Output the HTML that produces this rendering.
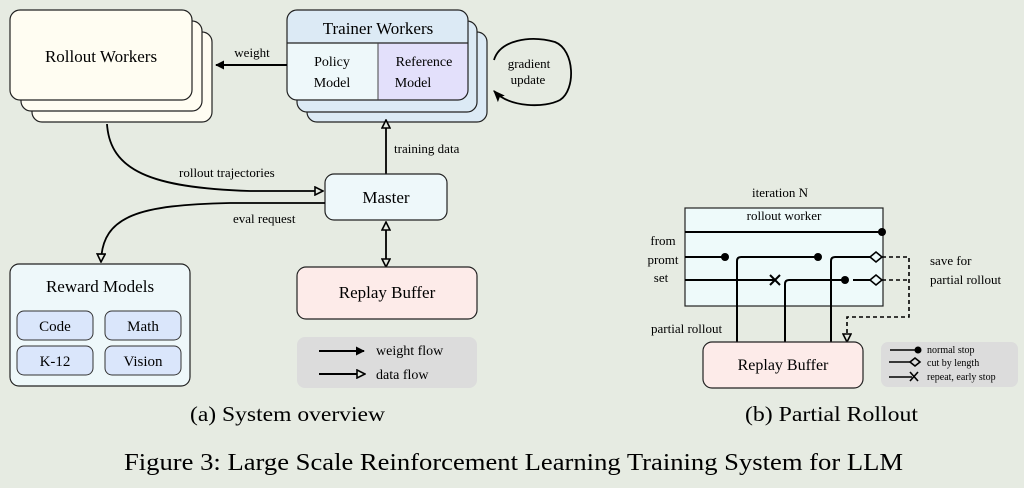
<!DOCTYPE html>
<html><head><meta charset="utf-8"><style>
html,body{margin:0;padding:0;background:#e6ebe2;}
svg{display:block;font-family:"Liberation Serif",serif;}
</style></head><body>
<svg width="1024" height="488" viewBox="0 0 1024 488" xmlns="http://www.w3.org/2000/svg">
<defs>
<marker id="fa" viewBox="0 0 10 10" refX="9" refY="5" markerWidth="9" markerHeight="9" markerUnits="userSpaceOnUse" orient="auto"><path d="M0,0 L10,5 L0,10 z" fill="#000"/></marker>
<marker id="ha" viewBox="0 0 10 10" refX="9" refY="5" markerWidth="10" markerHeight="10" markerUnits="userSpaceOnUse" orient="auto"><path d="M1,1 L9,5 L1,9 z" fill="#e6ebe2" stroke="#000" stroke-width="1.6"/></marker>
<marker id="fb" viewBox="0 0 10 10" refX="9" refY="5" markerWidth="12" markerHeight="12" markerUnits="userSpaceOnUse" orient="auto"><path d="M0,1 L10,5 L0,9 L2,5 z" fill="#000"/></marker>
</defs>
<rect width="1024" height="488" fill="#e6ebe2"/>

<!-- Rollout workers -->
<rect x="32" y="32" width="180" height="90" rx="10" fill="#fffdf2" stroke="#222" stroke-width="1.2"/>
<rect x="21" y="21" width="181" height="90" rx="10" fill="#fffdf2" stroke="#222" stroke-width="1.2"/>
<rect x="10" y="10" width="182" height="90" rx="10" fill="#fffdf2" stroke="#222" stroke-width="1.2"/>
<text x="101" y="62" font-size="17" text-anchor="middle">Rollout Workers</text>

<!-- Trainer workers -->
<rect x="307" y="32" width="180" height="90" rx="10" fill="#dceaf5" stroke="#222" stroke-width="1.2"/>
<rect x="297" y="21" width="180" height="91" rx="10" fill="#dceaf5" stroke="#222" stroke-width="1.2"/>
<path d="M287,43 L378,43 L378,100 L297,100 Q287,100 287,90 Z" fill="#eef8fa"/>
<path d="M378,43 L468,43 L468,90 Q468,100 458,100 L378,100 Z" fill="#e3e0fb"/>
<path d="M287,43 L287,20 Q287,10 297,10 L458,10 Q468,10 468,20 L468,43 Z" fill="#dceaf5"/>
<rect x="287" y="10" width="181" height="90" rx="10" fill="none" stroke="#222" stroke-width="1.2"/>
<line x1="287" y1="43" x2="468" y2="43" stroke="#222" stroke-width="1.2"/>
<line x1="378" y1="43" x2="378" y2="100" stroke="#444" stroke-width="1"/>
<text x="378" y="34" font-size="17" text-anchor="middle">Trainer Workers</text>
<text x="332" y="66" font-size="14" text-anchor="middle">Policy</text>
<text x="332" y="87" font-size="14" text-anchor="middle">Model</text>
<text x="424" y="66" font-size="14" text-anchor="middle">Reference</text>
<text x="413" y="87" font-size="14" text-anchor="middle">Model</text>

<!-- weight arrow -->
<line x1="287" y1="65" x2="216" y2="65" stroke="#000" stroke-width="2" marker-end="url(#fa)"/>
<text x="252" y="57" font-size="13" text-anchor="middle">weight</text>

<!-- gradient update -->
<path d="M494,60 C500,40 530,35 555,42 C575,50 576,90 560,100 C545,108 510,108 494,91" fill="none" stroke="#000" stroke-width="1.8" marker-end="url(#fb)"/>
<text x="529" y="68" font-size="13" text-anchor="middle">gradient</text>
<text x="528" y="84" font-size="13" text-anchor="middle">update</text>

<!-- training data -->
<line x1="386" y1="174" x2="386" y2="120" stroke="#000" stroke-width="1.8" marker-end="url(#ha)"/>
<text x="394" y="153" font-size="13">training data</text>

<!-- Master -->
<rect x="325" y="174" width="122" height="46" rx="9" fill="#eef8fa" stroke="#222" stroke-width="1.2"/>
<text x="386" y="203" font-size="17" text-anchor="middle">Master</text>

<!-- rollout trajectories -->
<path d="M107,124 C110,170 150,188 250,191 L323,191" fill="none" stroke="#000" stroke-width="1.8" marker-end="url(#ha)"/>
<text x="179" y="177" font-size="13">rollout trajectories</text>

<!-- eval request -->
<path d="M325,203 L230,203 C140,205 102,215 101,262" fill="none" stroke="#000" stroke-width="1.8" marker-end="url(#ha)"/>
<text x="233" y="223" font-size="13">eval request</text>

<!-- Reward models -->
<rect x="10" y="264" width="180" height="122" rx="9" fill="#eef8fa" stroke="#222" stroke-width="1.2"/>
<text x="100" y="292" font-size="17" text-anchor="middle">Reward Models</text>
<rect x="17" y="311" width="76" height="29" rx="7" fill="#dae6fb" stroke="#333" stroke-width="1"/>
<rect x="105" y="311" width="76" height="29" rx="7" fill="#dae6fb" stroke="#333" stroke-width="1"/>
<rect x="17" y="346" width="76" height="29" rx="7" fill="#dae6fb" stroke="#333" stroke-width="1"/>
<rect x="105" y="346" width="76" height="29" rx="7" fill="#dae6fb" stroke="#333" stroke-width="1"/>
<text x="55" y="331" font-size="15" text-anchor="middle">Code</text>
<text x="143" y="331" font-size="15" text-anchor="middle">Math</text>
<text x="55" y="366" font-size="15" text-anchor="middle">K-12</text>
<text x="143" y="366" font-size="15" text-anchor="middle">Vision</text>

<!-- Master <-> Replay -->
<line x1="386" y1="240" x2="386" y2="222" stroke="#000" stroke-width="1.8" marker-end="url(#ha)"/>
<line x1="386" y1="240" x2="386" y2="267" stroke="#000" stroke-width="1.8" marker-end="url(#ha)"/>

<!-- Replay buffer -->
<rect x="297" y="267" width="180" height="52" rx="9" fill="#fdebe9" stroke="#222" stroke-width="1.2"/>
<text x="387" y="298" font-size="17" text-anchor="middle">Replay Buffer</text>

<!-- legend a -->
<rect x="297" y="337" width="180" height="51" rx="8" fill="#dcdcdc"/>
<line x1="319" y1="351" x2="364" y2="351" stroke="#000" stroke-width="2" marker-end="url(#fa)"/>
<line x1="319" y1="374" x2="365" y2="374" stroke="#000" stroke-width="2" marker-end="url(#ha)"/>
<text x="376" y="355" font-size="14">weight flow</text>
<text x="376" y="379" font-size="14">data flow</text>

<!-- Right: partial rollout -->
<text x="780" y="197" font-size="13" text-anchor="middle">iteration N</text>
<rect x="685" y="208" width="198" height="98" fill="#eefafa" stroke="#222" stroke-width="1.2"/>
<text x="784" y="220" font-size="13" text-anchor="middle">rollout worker</text>
<g stroke="#000" stroke-width="2" fill="none">
<line x1="685" y1="232" x2="882" y2="232"/>
<line x1="685" y1="257" x2="725" y2="257"/>
<path d="M737,342 L737,261 Q737,257 741,257 L818,257"/>
<path d="M831,342 L831,261 Q831,257 835,257 L870,257"/>
<line x1="685" y1="280" x2="775" y2="280"/>
<path d="M785,342 L785,284 Q785,280 789,280 L845,280"/>
<line x1="853" y1="280" x2="870" y2="280"/>
<path d="M770,275 L780,285 M780,275 L770,285"/>
</g>
<g fill="#000">
<circle cx="882" cy="232" r="4"/>
<circle cx="725" cy="257" r="4"/>
<circle cx="818" cy="257" r="4"/>
<circle cx="845" cy="280" r="4"/>
</g>
<g fill="#eefafa" stroke="#000" stroke-width="1.6">
<path d="M870,257 L876,252 L882,257 L876,262 Z"/>
<path d="M870,280 L876,275 L882,280 L876,285 Z"/>
</g>
<path d="M882,257 L909,257 L909,317 L847,317 L847,342" fill="none" stroke="#000" stroke-width="1.6" stroke-dasharray="4,3" marker-end="url(#ha)"/>
<line x1="882" y1="280" x2="909" y2="280" stroke="#000" stroke-width="1.6" stroke-dasharray="4,3"/>
<text x="663" y="245" font-size="13" text-anchor="middle">from</text>
<text x="663" y="264" font-size="13" text-anchor="middle">promt</text>
<text x="661" y="282" font-size="13" text-anchor="middle">set</text>
<text x="930" y="265" font-size="13">save for</text>
<text x="930" y="284" font-size="13">partial rollout</text>
<text x="651" y="333" font-size="13">partial rollout</text>

<rect x="703" y="342" width="160" height="46" rx="9" fill="#fdebe9" stroke="#222" stroke-width="1.2"/>
<text x="783" y="370" font-size="16" text-anchor="middle">Replay Buffer</text>

<rect x="881" y="342" width="137" height="45" rx="7" fill="#dcdcdc"/>
<g stroke="#000" stroke-width="1.6" fill="none">
<line x1="890" y1="350" x2="915" y2="350"/>
<line x1="889" y1="362" x2="910" y2="362"/>
<line x1="889" y1="377" x2="912" y2="377"/>
<path d="M910,362 L915,358 L920,362 L915,366 Z" fill="#dcdcdc"/>
<path d="M910,372 L918,381 M918,372 L910,381"/>
</g>
<circle cx="918" cy="350" r="3.5" fill="#000"/>
<text x="927" y="353" font-size="10">normal stop</text>
<text x="927" y="366" font-size="10">cut by length</text>
<text x="927" y="380" font-size="10">repeat, early stop</text>

<!-- captions -->
<text x="190" y="421" font-size="21" textLength="195" lengthAdjust="spacingAndGlyphs">(a) System overview</text>
<text x="745" y="421" font-size="21" textLength="173" lengthAdjust="spacingAndGlyphs">(b) Partial Rollout</text>
<text x="124" y="470" font-size="24" textLength="779" lengthAdjust="spacingAndGlyphs">Figure 3: Large Scale Reinforcement Learning Training System for LLM</text>
</svg>
</body></html>
